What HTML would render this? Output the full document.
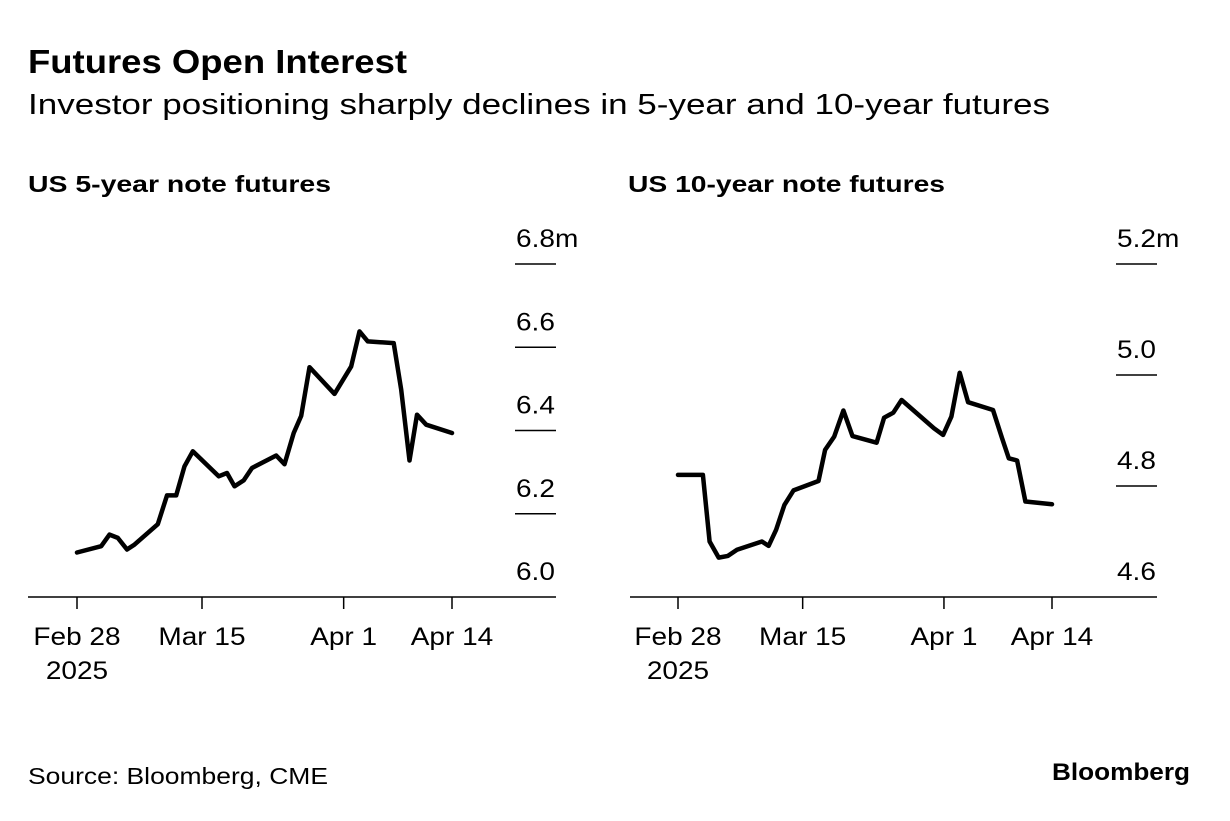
<!DOCTYPE html>
<html><head><meta charset="utf-8"><style>
body{margin:0;background:#fff;font-family:"Liberation Sans",sans-serif;color:#000}
svg text{font-family:"Liberation Sans",sans-serif}
</style></head><body>
<svg width="1230" height="816" viewBox="0 0 1230 816">
<text x="28" y="73" font-size="33" font-weight="bold" textLength="379" lengthAdjust="spacingAndGlyphs">Futures Open Interest</text>
<text x="28" y="114" font-size="29" textLength="1022" lengthAdjust="spacingAndGlyphs">Investor positioning sharply declines in 5-year and 10-year futures</text>
<text x="28" y="192" font-size="23" font-weight="bold" textLength="303" lengthAdjust="spacingAndGlyphs">US 5-year note futures</text>
<text x="628" y="192" font-size="23" font-weight="bold" textLength="317" lengthAdjust="spacingAndGlyphs">US 10-year note futures</text>
<g id="left"></g>
<g id="right"></g>
<text x="28" y="784" font-size="23" textLength="300" lengthAdjust="spacingAndGlyphs">Source: Bloomberg, CME</text>
<text x="1052" y="780" font-size="24" font-weight="bold" textLength="138" lengthAdjust="spacingAndGlyphs">Bloomberg</text>
</svg>
<script>
const leftDays=[0,2.9,3.9,4.9,6.0,6.9,9.7,10.8,11.9,12.9,13.9,17.0,18.0,18.9,20.0,21.0,23.9,24.9,26.0,26.9,27.9,30.9,32.9,33.9,34.9,38.0,38.9,39.9,40.8,41.9,45];
const leftValues=[6.107,6.122,6.150,6.142,6.114,6.126,6.175,6.244,6.244,6.314,6.350,6.290,6.298,6.266,6.280,6.310,6.340,6.319,6.394,6.435,6.552,6.488,6.554,6.638,6.614,6.610,6.498,6.328,6.438,6.414,6.394];
const leftTicks=[6.0,6.2,6.4,6.6,6.8];
const leftTickLabels=["6.0","6.2","6.4","6.6","6.8m"];
const rightDays=[0,3.0,3.8,4.9,6.0,7.1,10.1,10.9,11.8,12.8,13.9,16.9,17.7,18.8,19.9,21.0,23.9,24.8,25.9,26.9,30.8,31.9,32.9,33.9,34.9,37.9,39.0,39.8,40.8,41.8,45];
const rightValues=[4.820,4.820,4.700,4.671,4.674,4.685,4.700,4.692,4.721,4.766,4.792,4.809,4.865,4.889,4.936,4.890,4.878,4.923,4.932,4.955,4.904,4.892,4.925,5.004,4.951,4.937,4.886,4.850,4.846,4.772,4.767];
const rightTicks=[4.6,4.8,5.0,5.2];
const rightTickLabels=["4.6","4.8","5.0","5.2m"];
const xTickDays=[0,15,32,45];
const xTickLabels=["Feb 28","Mar 15","Apr 1","Apr 14"];
const NS="http://www.w3.org/2000/svg";
function mk(p,tag,a){const e=document.createElementNS(NS,tag);for(const k in a)e.setAttribute(k,a[k]);p.appendChild(e);return e;}
function widen(t,f){const l=t.getComputedTextLength();t.setAttribute('textLength',(l*f).toFixed(1));t.setAttribute('lengthAdjust','spacingAndGlyphs');}
function panel(g,o){
  const x=d=>o.x0+(d/45)*(o.x1-o.x0);
  const y=v=>597-(v-o.vmin)/(o.vmax-o.vmin)*(597-264);
  const base=mk(g,'line',{x1:o.ax0,x2:o.ax1,y1:597,y2:597,stroke:'#000','stroke-width':1.5});
  
  
  o.ticks.forEach((t,i)=>{
    if(i>0){const gl=mk(g,'line',{x1:o.ax1-41,x2:o.ax1,y1:y(t),y2:y(t),stroke:'#000','stroke-width':1.5});
      
      }
    const tx=mk(g,'text',{x:o.ax1-40,y:y(t)-17,'font-size':25});
    tx.textContent=o.labels[i];
    
    
    widen(tx,1.12);
  });
  xTickDays.forEach((d,i)=>{
    const tk=mk(g,'line',{x1:x(d),x2:x(d),y1:597,y2:609,stroke:'#000','stroke-width':1.5});
    
    
    const tx=mk(g,'text',{x:x(d),y:645,'font-size':25,'text-anchor':'middle'});
    tx.textContent=xTickLabels[i];
    
    
    widen(tx,1.12);
  });
  const yr=mk(g,'text',{x:x(0),y:679,'font-size':25,'text-anchor':'middle'});
  yr.textContent='2025';
  
  
  widen(yr,1.12);
  const pts=o.days.map((d,i)=>x(d).toFixed(1)+','+y(o.vals[i]).toFixed(1)).join(' ');
  const pl=mk(g,'polyline',{points:pts,fill:'none',stroke:'#000','stroke-width':4.5,'stroke-linejoin':'round','stroke-linecap':'round'});
  
  
}
panel(document.getElementById('left'),{x0:77,x1:452,ax0:28,ax1:556,vmin:6.0,vmax:6.8,ticks:leftTicks,labels:leftTickLabels,days:leftDays,vals:leftValues});
panel(document.getElementById('right'),{x0:678,x1:1052,ax0:630,ax1:1157,vmin:4.6,vmax:5.2,ticks:rightTicks,labels:rightTickLabels,days:rightDays,vals:rightValues});
</script>
</body></html>
